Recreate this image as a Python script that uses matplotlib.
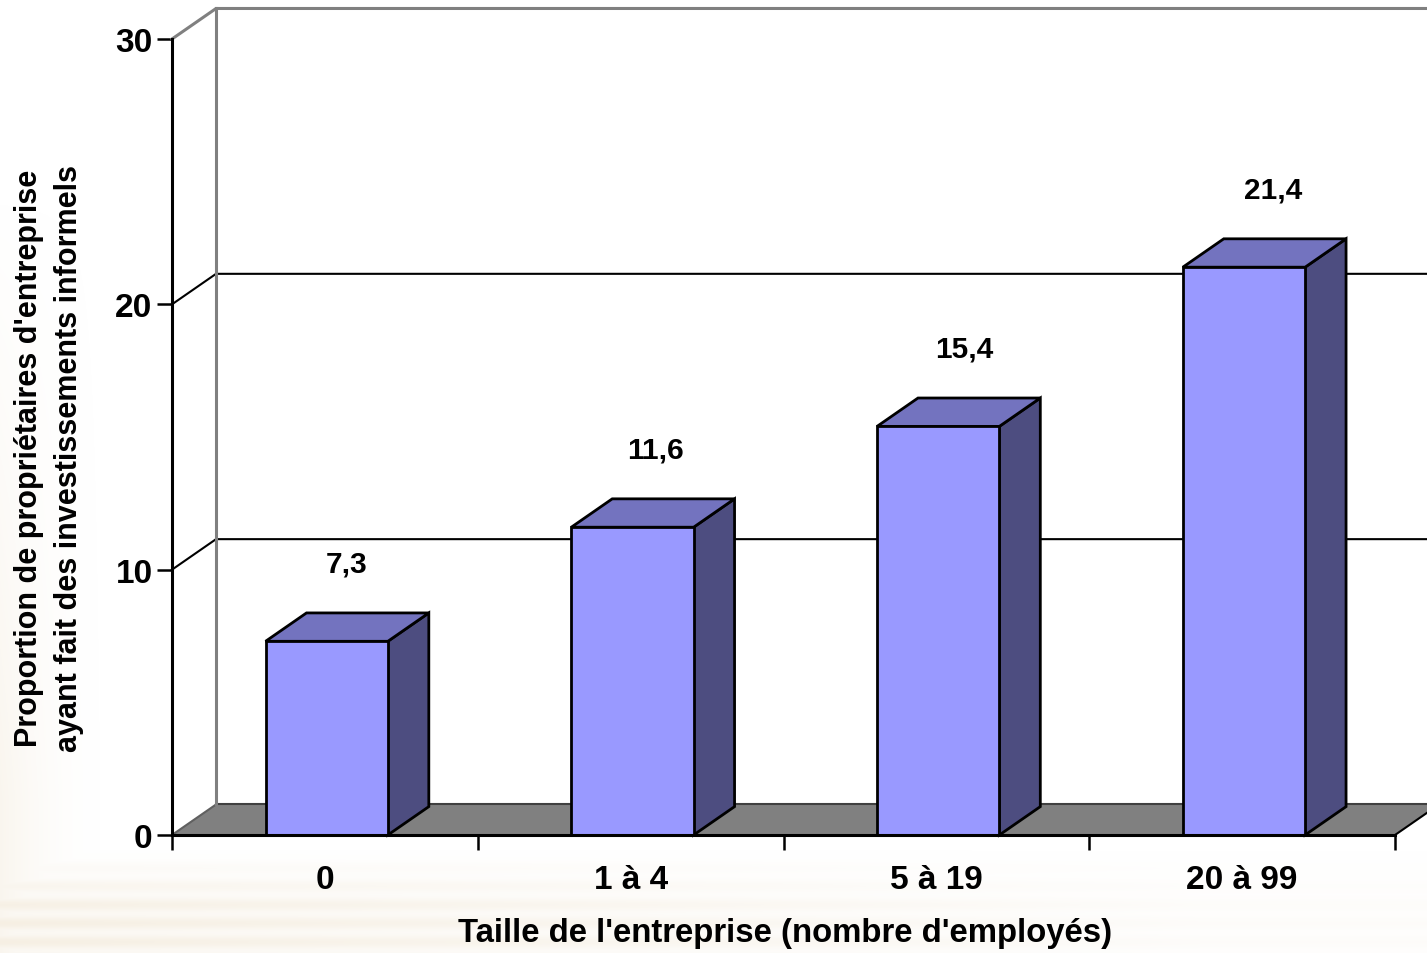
import numpy as np
import matplotlib
matplotlib.use("Agg")
import matplotlib.pyplot as plt
from matplotlib.patches import Polygon
from matplotlib.ticker import FixedLocator, NullFormatter, FixedFormatter

plt.rcParams['font.family'] = ['Liberation Sans', 'DejaVu Sans']
plt.rcParams['font.weight'] = 'bold'

# Data
categories = ["0", "1 à 4", "5 à 19", "20 à 99"]
values = [7.3, 11.6, 15.4, 21.4]
value_labels = ["7,3", "11,6", "15,4", "21,4"]
y_ticks = [0, 10, 20, 30]
x_title = "Taille de l'entreprise (nombre d'employés)"
y_title = "Proportion de propriétaires d'entreprise\nayant fait des investissements informels"

# Styling
FRONT = "#9999FF"
TOP = "#7373BF"
SIDE = "#4D4D80"
FLOOR = "#808080"
WALL_EDGE = "#808080"
DEPTH_X = 0.144   # oblique depth offset, category units
DEPTH_Y = 1.15    # oblique depth offset, value units
BAR_DEPTH = 0.93  # fraction of the wall depth used by a bar
BAR_WIDTH = 0.4
BAR_SHIFT = 0.006

W, H = 1427, 954
fig = plt.figure(figsize=(W / 100, H / 100), dpi=100)
fig.patch.set_facecolor("white")

# soft beige tint in the lower-left background
bg = fig.add_axes([0, 0, 1, 1], zorder=-10)
bg.set_axis_off()
yy, xx = np.mgrid[0:H, 0:W]
left = np.clip(1 - xx / 110.0, 0, 1) ** 2 * np.clip((yy - 200) / 600.0, 0, 1) * 0.6
bottom = np.clip((yy - 850) / 60.0, 0, 1) * (0.45 + 0.55 * np.cos(yy / 6.0) ** 2) * np.clip(1 - xx / 1500.0, 0.2, 1)
alpha = np.clip(np.maximum(left, bottom), 0, 1) * 0.75
img = np.zeros((H, W, 4))
img[..., 0] = 243 / 255
img[..., 1] = 234 / 255
img[..., 2] = 218 / 255
img[..., 3] = alpha
bg.imshow(img, extent=[0, W, H, 0], aspect="auto", interpolation="bilinear")
bg.set_xlim(0, W)
bg.set_ylim(H, 0)

ax = fig.add_axes([172 / W, (H - 836) / H, (1395 - 172) / W, (836 - 40) / H])
ax.set_facecolor("none")
n = len(categories)
ax.set_xlim(0, n)
ax.set_ylim(0, 30)


def p(x, y, d=0.0):
    return (x + d * DEPTH_X, y + d * DEPTH_Y)


ymax = y_ticks[-1]
xright = n + 0.3  # walls continue past the figure edge

# left side wall and back wall
ax.add_patch(Polygon([p(0, 0), p(0, 0, 1), p(0, ymax, 1), p(0, ymax)], closed=True,
                     facecolor="white", edgecolor="none", clip_on=False, zorder=1))
ax.add_patch(Polygon([p(0, 0, 1), p(xright, 0, 1), p(xright, ymax, 1), p(0, ymax, 1)], closed=True,
                     facecolor="white", edgecolor="none", clip_on=False, zorder=1))
# floor
ax.add_patch(Polygon([p(0, 0), p(n, 0), p(n, 0, 1), p(0, 0, 1)], closed=True,
                     facecolor=FLOOR, edgecolor="none", clip_on=False, zorder=2))
fx = [p(0, 0, 1)[0], p(n, 0, 1)[0] + 0.3]
ax.plot(fx, [p(0, 0, 1)[1]] * 2, color="#404040", lw=1.5, clip_on=False, zorder=2)
ax.plot([p(0, 0)[0], p(0, 0, 1)[0]], [p(0, 0)[1], p(0, 0, 1)[1]], color="#606060", lw=1.5,
        clip_on=False, zorder=2)
ax.plot([p(n, 0)[0], p(n, 0, 1)[0]], [p(n, 0)[1], p(n, 0, 1)[1]], color="black", lw=1.5,
        clip_on=False, zorder=2)

# gridlines (side wall diagonals + back wall horizontals)
for t in y_ticks[1:-1]:
    ax.plot([p(0, t)[0], p(0, t, 1)[0], p(xright, t, 1)[0]],
            [p(0, t)[1], p(0, t, 1)[1], p(xright, t, 1)[1]],
            color="black", lw=1.5, clip_on=False, zorder=3)
# wall borders
ax.plot([p(0, ymax)[0], p(0, ymax, 1)[0], p(xright, ymax, 1)[0]],
        [p(0, ymax)[1], p(0, ymax, 1)[1], p(xright, ymax, 1)[1]],
        color=WALL_EDGE, lw=2.2, clip_on=False, zorder=3, solid_joinstyle="miter")
ax.plot([p(0, 0, 1)[0], p(0, ymax, 1)[0]], [p(0, 0, 1)[1], p(0, ymax, 1)[1]],
        color=WALL_EDGE, lw=2.2, clip_on=False, zorder=3)

# 3D bars
for i, v in enumerate(values):
    c = i + 0.5 + BAR_SHIFT
    x0, x1 = c - BAR_WIDTH / 2, c + BAR_WIDTH / 2
    d = BAR_DEPTH
    kw = dict(closed=True, edgecolor="black", lw=2.0, joinstyle="miter", clip_on=False, zorder=5)
    ax.add_patch(Polygon([p(x1, 0), p(x1, 0, d), p(x1, v, d), p(x1, v)], facecolor=SIDE, **kw))
    ax.add_patch(Polygon([p(x0, v), p(x1, v), p(x1, v, d), p(x0, v, d)], facecolor=TOP, **kw))
    ax.add_patch(Polygon([p(x0, 0), p(x1, 0), p(x1, v), p(x0, v)], facecolor=FRONT, **kw))
    ax.annotate(value_labels[i], xy=(c, v), xytext=(14.5 + 2.2 * i, 56), textcoords="offset points",
                ha="center", va="center", fontsize=21.5, fontweight="bold", zorder=6)

# axes lines and ticks
for s in ("top", "right"):
    ax.spines[s].set_visible(False)
for s in ("left", "bottom"):
    ax.spines[s].set_linewidth(2.2)
    ax.spines[s].set_zorder(7)
ax.yaxis.set_major_locator(FixedLocator(y_ticks))
ax.set_yticklabels([str(t) for t in y_ticks])
ax.tick_params(axis="y", length=11, width=1.8, pad=3, labelsize=24)
ax.xaxis.set_major_locator(FixedLocator(np.arange(n + 1)))
ax.xaxis.set_major_formatter(NullFormatter())
ax.xaxis.set_minor_locator(FixedLocator(np.arange(n) + 0.5))
ax.xaxis.set_minor_formatter(FixedFormatter(categories))
ax.tick_params(axis="x", which="major", length=11, width=1.8)
ax.tick_params(axis="x", which="minor", length=0, pad=21, labelsize=24)
for lab in ax.get_xticklabels(minor=True) + ax.get_yticklabels():
    lab.set_fontweight("bold")

fig.text(785 / W, 1 - 934 / H, x_title, ha="center", va="center", fontsize=23.7, fontweight="bold")
fig.text(49 / W, 1 - 458 / H, y_title, ha="center", va="center", rotation=90,
         fontsize=22, fontweight="bold", linespacing=1.45, multialignment="center")

fig.savefig("out.png", dpi=100)
